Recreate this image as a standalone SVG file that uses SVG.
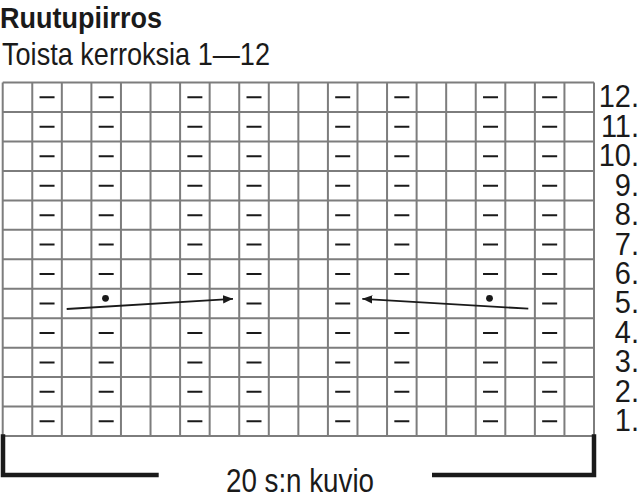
<svg xmlns="http://www.w3.org/2000/svg" xmlns:xlink="http://www.w3.org/1999/xlink" width="638" height="496" viewBox="0 0 638 496">
<style>
.t{font-family:"Liberation Sans",Arial,sans-serif;fill:#1a1a1a}
.grid{fill:none;stroke:#7d7d7d;stroke-width:2}
.dash{fill:none;stroke:#1a1a1a;stroke-width:2}
.arr{fill:none;stroke:#1a1a1a;stroke-width:1.8}
.lbl{font-family:"Liberation Sans",Arial,sans-serif;font-size:31.5px;fill:#1a1a1a;text-anchor:end}
</style>
<defs>
<marker id="ah" markerUnits="userSpaceOnUse" markerWidth="12" markerHeight="10" refX="10" refY="4.2" orient="auto">
<path d="M0,0 L10,4.2 L0,8.4 z" fill="#1a1a1a"/>
</marker>
<g id="row" class="dash">
<path d="M39.55,0h15M98.68,0h15M187.37,0h15M246.5,0h15M335.2,0h15M394.33,0h15M483.03,0h15M542.16,0h15"/>
</g>
</defs>
<rect width="638" height="496" fill="#fff"/>
<g id="title">
<text class="t" x="0" y="28.3" font-size="29" font-weight="bold" textLength="162" lengthAdjust="spacingAndGlyphs">Ruutupiirros</text>
<text class="t" x="2" y="65" font-size="31.5" textLength="268" lengthAdjust="spacingAndGlyphs">Toista kerroksia 1—12</text>
</g>
<g id="grid" class="grid">
<path d="M2.7,82.6H594M2.7,112.05H594M2.7,141.5H594M2.7,170.95H594M2.7,200.4H594M2.7,229.85H594M2.7,259.3H594M2.7,288.75H594M2.7,318.2H594M2.7,347.65H594M2.7,377.1H594M2.7,406.55H594M2.7,436H594"/>
<path d="M2.7,82.6V436M32.27,82.6V436M61.83,82.6V436M91.4,82.6V436M120.96,82.6V436M150.53,82.6V436M180.09,82.6V436M209.66,82.6V436M239.22,82.6V436M268.79,82.6V436M298.35,82.6V436M327.92,82.6V436M357.48,82.6V436M387.05,82.6V436M416.61,82.6V436M446.18,82.6V436M475.74,82.6V436M505.31,82.6V436M534.87,82.6V436M564.44,82.6V436M594,82.6V436"/>
</g>
<g id="symbols">
<use xlink:href="#row" href="#row" y="97.33"/>
<use xlink:href="#row" href="#row" y="126.78"/>
<use xlink:href="#row" href="#row" y="156.23"/>
<use xlink:href="#row" href="#row" y="185.68"/>
<use xlink:href="#row" href="#row" y="215.13"/>
<use xlink:href="#row" href="#row" y="244.58"/>
<use xlink:href="#row" href="#row" y="274.03"/>
<path class="dash" d="M39.55,303.48h15M246.5,303.48h15M335.2,303.48h15M542.16,303.48h15"/>
<use xlink:href="#row" href="#row" y="332.93"/>
<use xlink:href="#row" href="#row" y="362.38"/>
<use xlink:href="#row" href="#row" y="391.83"/>
<use xlink:href="#row" href="#row" y="421.28"/>
<circle cx="105.5" cy="298.3" r="3.4" fill="#1a1a1a"/>
<circle cx="489.5" cy="298.3" r="3.4" fill="#1a1a1a"/>
</g>
<g id="connectors">
<path class="arr" d="M66.7,309 L233,298.8" marker-end="url(#ah)"/>
<path class="arr" d="M528.3,308.7 L362.3,298.8" marker-end="url(#ah)"/>
</g>
<g id="row-labels">
<text class="lbl" transform="translate(639,107.3) scale(0.92,1)">12.</text>
<text class="lbl" transform="translate(639,136.75) scale(0.92,1)">11.</text>
<text class="lbl" transform="translate(639,166.2) scale(0.92,1)">10.</text>
<text class="lbl" transform="translate(639,195.65) scale(0.92,1)">9.</text>
<text class="lbl" transform="translate(639,225.1) scale(0.92,1)">8.</text>
<text class="lbl" transform="translate(639,254.55) scale(0.92,1)">7.</text>
<text class="lbl" transform="translate(639,284) scale(0.92,1)">6.</text>
<text class="lbl" transform="translate(639,313.45) scale(0.92,1)">5.</text>
<text class="lbl" transform="translate(639,342.9) scale(0.92,1)">4.</text>
<text class="lbl" transform="translate(639,372.35) scale(0.92,1)">3.</text>
<text class="lbl" transform="translate(639,401.8) scale(0.92,1)">2.</text>
<text class="lbl" transform="translate(639,431.25) scale(0.92,1)">1.</text>
</g>
<g id="bracket">
<path d="M3,434.3V475H158.7M432,475H594V434.3" fill="none" stroke="#1a1a1a" stroke-width="4.5" stroke-linejoin="miter"/>
<text class="t" x="226" y="491.7" font-size="33" textLength="148" lengthAdjust="spacingAndGlyphs">20 s:n kuvio</text>
</g>
</svg>
